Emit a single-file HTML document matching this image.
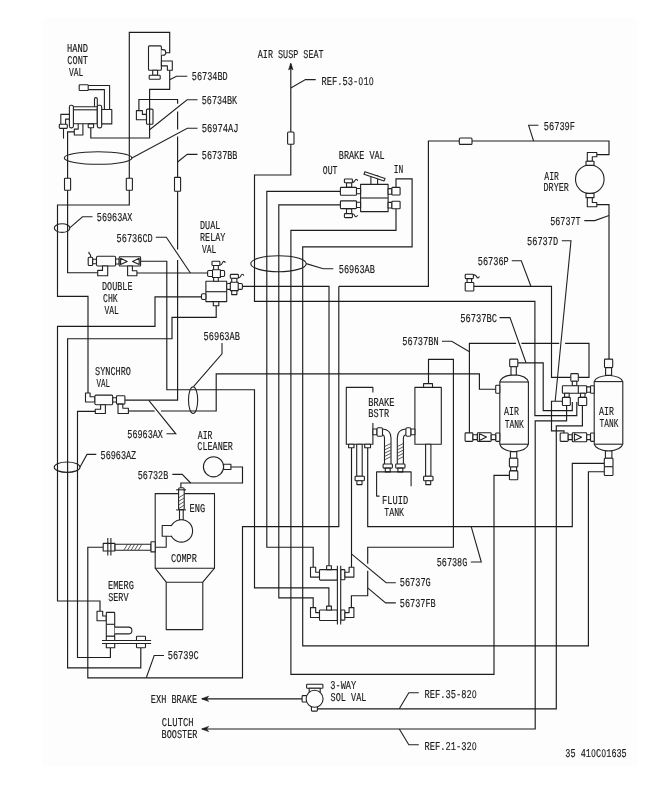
<!DOCTYPE html>
<html lang="en">
<head>
<meta charset="utf-8">
<title>Air brake piping diagram 35 410C01635</title>
<style>
html,body{margin:0;padding:0;background:#fff;}
body{width:668px;height:792px;overflow:hidden;}
svg{display:block;filter:grayscale(1);}
.l{fill:none;stroke:#1c1c1c;stroke-width:1.15;stroke-linejoin:miter;}
.d{fill:none;stroke:#222;stroke-width:1.1;}
.e{fill:none;stroke:#222;stroke-width:1.1;}
.c{fill:#fdfdfd;stroke:#222;stroke-width:1.1;stroke-linejoin:round;}
.cw{fill:#fdfdfd;stroke:#222;stroke-width:1.1;}
.c0{fill:none;stroke:#222;stroke-width:1.1;stroke-linejoin:round;}
.h{fill:none;stroke:#333;stroke-width:0.8;}
.a{fill:#1c1c1c;stroke:#1c1c1c;stroke-width:0.6;}
.z{font-family:"Liberation Sans","DejaVu Sans",sans-serif;font-size:11.15px;}
text{font-family:"Liberation Mono","DejaVu Sans Mono",monospace;font-size:12px;fill:#1a1a1a;white-space:pre;text-rendering:geometricPrecision;stroke:#1a1a1a;stroke-width:0.15px;}
</style>
</head>
<body>
<svg width="668" height="792" viewBox="0 0 668 792">
<rect x="0" y="0" width="668" height="792" fill="#fff"/>
<rect x="43" y="18" width="594.2" height="748.5" fill="#fdfdfd"/>
<!-- pipes: top-left -->
<polyline class="l" points="165.6,52.7 169.7,52.7 169.7,32.4 129.3,32.4 129.3,205 57.5,205 57.5,296.3 88,296.3 88,393"/>
<polyline class="l" points="74.3,131.8 67.6,131.8 67.6,272.7 97.7,272.7"/>
<polyline class="l" points="90.8,127.8 90.8,138 149.6,138 149.6,124.2"/>
<polyline class="l" points="149.6,109.1 149.6,89.4 169.7,89.4 169.7,70.2"/>
<polyline class="l" points="138.9,110.6 138.9,99.5 177.6,99.5 177.6,103.8"/>
<line class="l" x1="177.6" y1="111.4" x2="177.6" y2="129.5"/>
<line class="l" x1="177.6" y1="136.4" x2="177.6" y2="249.5"/>
<polyline class="l" points="177.6,260 177.6,400.1 124.9,400.1"/>
<!-- pipes: double check / dual relay -->
<polyline class="l" points="140.6,261.2 166.8,261.2 166.8,389.7 254.5,389.7 254.5,587.9 328.9,587.9 328.9,605.9"/>
<polyline class="l" points="136.9,273 207.6,273"/>
<polyline class="l" points="201.5,296.8 155,296.8 155,326.3 57.5,326.3 57.5,601 100,601 100,611.2"/>
<polyline class="l" points="216.2,305.8 216.2,317.3 172,317.3 172,338.7 67.6,338.7 67.6,667.8 140.8,667.8 140.8,647.7"/>
<polyline class="l" points="95.3,411.3 77.5,411.3 77.5,657.5 110.4,657.5 110.4,647.7"/>
<polyline class="l" points="242.4,286.4 329,286.4 329,565.7"/>
<line class="l" x1="128.4" y1="411" x2="154.6" y2="411"/>
<polyline class="l" points="161,411 216.2,411 216.2,373.8 479.4,373.8 479.4,389.2 495.7,389.2"/>
<!-- pipes: brake valve loops -->
<polyline class="l" points="290.8,64 290.8,175 254.5,175 254.5,301.4 534.9,301.4 534.9,415.6 576.8,415.6 576.8,402"/>
<polyline class="l" points="340.3,191.3 266.8,191.3 266.8,547.2 313.2,547.2 313.2,567.2"/>
<polyline class="l" points="340.3,204.8 278.8,204.8 278.8,597.8 313.2,597.8 313.2,607.7"/>
<polyline class="l" points="396,208.8 396,230.4 290.9,230.4 290.9,674.4 494,674.4 494,475.3 509.4,475.3"/>
<polyline class="l" points="396,187.3 396,178.8 412.1,178.8 412.1,246.8 302.7,246.8 302.7,645.9 588.4,645.9 588.4,471.7 604.3,471.7"/>
<!-- pipes: top right -->
<polyline class="l" points="338.8,286.4 428.4,286.4 428.4,141 609,141 609,154.6 596.8,154.6"/>
<polyline class="l" points="338.8,286.4 338.8,526.6 242.5,526.6 242.5,677.8 87.8,677.8 87.8,547.2 103.2,547.2"/>
<polyline class="l" points="596.8,204.6 609,204.6 609,359.1"/>
<polyline class="l" points="473.8,286.3 551.5,286.3 551.5,377.3 570.8,377.3"/>
<polyline class="l" points="578.3,377.3 589,377.3 589,343.4 565.1,343.4"/>
<line class="l" x1="559.2" y1="343.4" x2="521.4" y2="343.4"/>
<polyline class="l" points="516,343.4 469.4,343.4 469.4,432.8"/>
<!-- pipes: booster area -->
<polyline class="l" points="428.5,383.6 428.5,359.4 453.4,359.4 453.4,547.2 367.7,547.2 367.7,563.7"/>
<polyline class="l" points="367.7,570.7 367.7,595.7 351.4,595.7 351.4,607.7"/>
<polyline class="l" points="351.5,447.8 351.5,567.2"/>
<polyline class="l" points="367.7,447.8 367.7,526.6 572.3,526.6 572.3,463.3 604.3,463.3"/>
<!-- pipes: air tank manifold -->
<polyline class="l" points="517.8,362.8 543.2,362.8 543.2,410.6 572.3,410.6 572.3,402"/>
<polyline class="l" points="566.6,405.5 566.6,420.9 535.2,420.9 535.2,729 202,729"/>
<polyline class="l" points="582.4,405.5 582.4,425.8 556.3,425.8 556.3,708.8 317.4,708.8"/>
<polyline class="l" points="562.4,401.2 551.5,401.2 551.5,430.8 564,430.8 564,433"/>
<line class="l" x1="202" y1="698.8" x2="302.1" y2="698.8"/>
<!-- leaders -->
<polyline class="d" points="169.7,79.8 176.5,76.2 187.3,76.2"/>
<polyline class="d" points="149.6,129.8 187.1,99.8 197.5,99.8"/>
<polyline class="d" points="131.5,158.2 187.3,128.2 197.5,128.2"/>
<polyline class="d" points="177.6,162 187.2,154.4 197.5,154.4"/>
<polyline class="d" points="290.8,88 305.5,79.6 315.7,79.6"/>
<polyline class="d" points="533.6,141 528.6,125.3 538.4,125.3"/>
<polyline class="d" points="609,215.6 594.8,220.6 584.3,220.6"/>
<polyline class="d" points="561.8,240.8 571,240.8 555.2,401"/>
<polyline class="d" points="511.8,260.8 521.3,260.8 530.9,286.3"/>
<polyline class="d" points="70,227.6 82.5,216.8 92.5,216.8"/>
<polyline class="d" points="155.8,237.2 166.3,237.2 190.4,273"/>
<polyline class="d" points="306.2,263.6 323.3,268.8 333.3,268.8"/>
<polyline class="d" points="222,343 222,353.8 193.5,386.7"/>
<polyline class="d" points="442,341.2 451.7,341.2 469,351.5"/>
<polyline class="d" points="499.5,317.6 510,317.6 526,362.8"/>
<polyline class="d" points="148.8,400.3 175.8,433.8 166.5,433.8"/>
<polyline class="d" points="80,467 87,454.4 96.3,454.4"/>
<polyline class="d" points="172.3,474.4 182.2,474.4 190.7,483"/>
<polyline class="d" points="351.4,553.8 386.1,582.7 395.8,582.7"/>
<polyline class="d" points="367.7,587.9 385.6,602.9 395.8,602.9"/>
<polyline class="d" points="471.2,526.6 481.3,562 470.8,562"/>
<polyline class="d" points="146.3,677.8 154.2,655.5 164,655.5"/>
<polyline class="d" points="399.3,708.8 408.8,692.8 418.8,692.8"/>
<polyline class="d" points="399.3,729 408.8,744.8 418.8,744.8"/>
<!-- ellipses -->
<ellipse class="e" cx="98.1" cy="158" rx="33.8" ry="6.3"/>
<ellipse class="e" cx="62.1" cy="228.1" rx="7.8" ry="4.3"/>
<ellipse class="e" cx="278.5" cy="263.7" rx="27.7" ry="8"/>
<ellipse class="e" cx="193.1" cy="400.1" rx="4.6" ry="13.4"/>
<ellipse class="e" cx="67.1" cy="467.2" rx="12.9" ry="5.2"/>
<!-- arrows -->
<polygon class="a" points="288.6,69.8 290.8,63 293,69.8 290.8,68.4"/>
<polygon class="a" points="208.6,696.2 201.6,698.8 208.6,701.4 206.6,698.8"/>
<polygon class="a" points="208.6,726.4 201.6,729 208.6,731.6 206.6,729"/>
<!-- inline connectors -->
<rect class="c" x="64.5" y="178.2" width="6.1" height="12.1" rx="0.5"/>
<rect class="c" x="126.3" y="178.2" width="6.1" height="12.1" rx="0.5"/>
<rect class="c" x="174.5" y="177.4" width="6.1" height="13.9" rx="0.5"/>
<rect class="c" x="287.6" y="132" width="6.4" height="12.3" rx="1"/>
<rect class="c" x="459.3" y="138" width="12.7" height="6.4" rx="1"/>
<!-- hand control valve -->
<rect class="c" x="79.2" y="84.7" width="9" height="5.8" rx="0.8"/>
<polyline class="c0" points="88.2,85.5 109.6,85.5 109.6,109.5"/>
<polyline class="c0" points="88.2,89.6 104.4,89.6 104.4,109.5"/>
<rect class="c" x="94.5" y="97.6" width="2.8" height="12.2" rx="1.3"/>
<rect class="c" x="73.4" y="106.7" width="23.9" height="17.1"/>
<line class="c0" x1="73.4" y1="109.8" x2="97.3" y2="109.8"/>
<rect class="c" x="69.4" y="105.3" width="4" height="22.6" rx="1.6"/>
<rect class="c" x="97.3" y="105.3" width="4.4" height="22.6" rx="1.6"/>
<rect class="c" x="101.7" y="109.5" width="10.1" height="14.4"/>
<polyline class="c0" points="69.4,114.4 60.8,114.4 60.8,124.2"/>
<polyline class="c0" points="69.4,119.1 65.6,119.1 65.6,124.2"/>
<rect class="c" x="59.3" y="124.2" width="8" height="4.2" rx="0.8"/>
<line class="c0" x1="63.5" y1="128.4" x2="63.5" y2="138.6"/>
<polyline class="c0" points="78.2,123.8 78.2,129.1 74.3,129.1 74.3,135 82.9,135 82.9,123.8"/>
<rect class="c" x="88.2" y="123.9" width="5.4" height="3.9" rx="0.6"/>
<!-- solenoid valve top -->
<rect class="c" x="148.5" y="45.9" width="12.9" height="24.3" rx="1"/>
<path class="c" d="M161.4,49.6 h1.6 a2.8,2.8 0 0 1 0,5.6 h-1.6"/>
<polygon class="c" points="161.4,61 172.3,61 172.3,70.2 167.4,70.2 167.4,65.9 161.4,65.9"/>
<rect class="c" x="152.7" y="70.2" width="4.9" height="5.1"/>
<rect class="c" x="149.2" y="75.3" width="11" height="3.9" rx="0.8"/>
<!-- small component -->
<polygon class="c" points="136.4,110.6 142.4,110.6 142.4,114.4 146.5,114.4 146.5,119.7 136.4,119.7"/>
<rect class="c0" x="146.5" y="109.1" width="6.5" height="15.1" rx="1"/>
<line class="l" x1="149.6" y1="109.1" x2="149.6" y2="124.2"/>
<!-- brake valve -->
<rect class="c" x="360.6" y="184.4" width="27.5" height="27.2"/>
<line class="c0" x1="360.6" y1="198" x2="388.1" y2="198"/>
<rect class="c" x="346.5" y="182.8" width="5.2" height="4.6"/>
<rect class="c" x="346.5" y="208.6" width="5.2" height="5"/>
<rect class="c" x="340.4" y="187.4" width="16.1" height="7.9" rx="0.8"/>
<rect class="c" x="340.4" y="200.9" width="16.1" height="7.7" rx="0.8"/>
<rect class="c" x="356.5" y="188.5" width="4.1" height="5.2"/>
<rect class="c" x="356.5" y="202.3" width="4.1" height="5.2"/>
<rect class="c" x="388.1" y="188.6" width="3.8" height="5.6"/>
<rect class="c" x="388.1" y="202.4" width="3.8" height="5.6"/>
<rect class="c" x="391.9" y="187.4" width="8.2" height="7.6" rx="0.8"/>
<rect class="c" x="391.9" y="201.2" width="8.2" height="7.6" rx="0.8"/>
<rect class="c" x="344.4" y="179" width="8" height="3.8" rx="0.8"/>
<rect class="c" x="344.4" y="213.6" width="8" height="4" rx="0.8"/>
<path class="c0" d="M352.4,182.6 q1.6,0 2.4,-1.8 q0.8,-1.7 1.6,-1.6 q0.8,0.1 1.2,1.6"/>
<path class="c0" d="M352.4,213.8 q1.6,0 2.2,1.6 q0.7,1.5 1.6,1.3 q0.8,-0.2 1.4,-1.6"/>
<rect class="c" x="370.9" y="175.5" width="6.7" height="8.9"/>
<polygon class="c" points="364.9,171.7 385.1,178.4 384.1,180.9 364,174.3"/>
<!-- air dryer -->
<ellipse class="c" cx="589.8" cy="179.3" rx="14.3" ry="14.3"/>
<polygon class="c" points="587.3,161.3 587.3,152.5 596.8,152.5 596.8,156.8 592.3,156.8 592.3,161.3"/>
<rect class="c" x="586" y="161.3" width="8" height="4.1"/>
<rect class="c" x="586" y="193.4" width="8" height="4.2"/>
<polygon class="c" points="587.3,197.6 587.3,206.8 596.8,206.8 596.8,202.5 592.3,202.5 592.3,197.6"/>
<!-- small valve 56736P -->
<rect class="c" x="465.2" y="282.5" width="8.6" height="8.5" rx="0.8"/>
<rect class="c" x="467.1" y="278.5" width="4.5" height="4"/>
<rect class="c" x="465.2" y="274.2" width="8.2" height="4.4" rx="0.8"/>
<path class="c0" d="M473.4,274.6 q2.4,0.2 3.1,1.9 q0.6,1.6 1.6,1.5 q0.8,-0.2 1.3,-1.6"/>
<!-- double check valve -->
<rect class="c" x="88.2" y="257.3" width="4.5" height="8.2" rx="1"/>
<path class="c0" d="M90.5,257.3 q0.5,-2.5 -0.8,-3.2 t-0.4,-2.2"/>
<rect class="c" x="92.7" y="259.2" width="3.8" height="4.5"/>
<rect class="c" x="96.5" y="256.2" width="19.1" height="9.8" rx="1.2"/>
<rect class="c" x="115.6" y="259" width="3.6" height="5"/>
<rect class="c" x="119.2" y="256.7" width="21.4" height="9.3" rx="0.8"/>
<polygon class="c0" points="120.6,258.2 127.2,261.4 120.6,264.6"/>
<polygon class="c0" points="139.2,258.2 132.6,261.4 139.2,264.6"/>
<polygon class="c" points="102.5,266 107.7,266 107.7,275.7 97.7,275.7 97.7,270.4 102.5,270.4"/>
<polygon class="c" points="127.6,266 132.4,266 132.4,270.7 136.9,270.7 136.9,275.7 127.6,275.7"/>
<!-- dual relay valve -->
<rect class="c" x="205.9" y="281.2" width="20.8" height="20.4"/>
<line class="c0" x1="205.9" y1="291.7" x2="226.7" y2="291.7"/>
<rect class="c" x="201.5" y="293.8" width="4.4" height="5.7" rx="1.2"/>
<rect class="c" x="213.3" y="301.6" width="5.5" height="4.2"/>
<rect class="c" x="207.6" y="270.5" width="17" height="6" rx="1.2"/>
<rect class="c" x="213.6" y="265.5" width="4.7" height="15.7"/>
<rect class="c" x="212.5" y="269.7" width="7.9" height="7.8"/>
<rect class="c" x="212" y="261.3" width="7.9" height="4.2" rx="0.8"/>
<path class="c0" d="M219.9,265.2 q1.6,0 2.4,-2.1 q0.8,-1.9 1.8,-1.7 q0.8,0.1 1.1,1.5"/>
<rect class="c" x="226.7" y="283.5" width="15.7" height="5.9" rx="1.2"/>
<rect class="c" x="231.7" y="278.3" width="5.2" height="16.3"/>
<rect class="c" x="230.3" y="282.2" width="7.9" height="8.4"/>
<rect class="c" x="230.3" y="274.4" width="8.1" height="3.9" rx="0.8"/>
<path class="c0" d="M238.4,278 q1.6,0 2.4,-2.1 q0.8,-1.9 1.8,-1.7 q0.8,0.1 1.1,1.5"/>
<!-- synchro valve -->
<polygon class="c" points="85.5,393 90.1,393 90.1,396.8 94.9,396.8 94.9,402 85.5,402"/>
<rect class="c" x="94.9" y="395.1" width="17.8" height="9.6" rx="1.2"/>
<rect class="c" x="112.7" y="397.8" width="3.8" height="4.2"/>
<rect class="c" x="116.5" y="395.7" width="8.4" height="8.4" rx="0.8"/>
<polygon class="c" points="100.6,404.7 105.4,404.7 105.4,413.5 95.3,413.5 95.3,409.3 100.6,409.3"/>
<polygon class="c" points="118,404.1 122.8,404.1 122.8,408.3 128.4,408.3 128.4,413.5 118,413.5"/>
<!-- air cleaner -->
<ellipse class="c" cx="213.5" cy="466.8" rx="10.1" ry="10.1"/>
<rect class="c" x="223.6" y="464.3" width="7.3" height="5.2"/>
<polyline class="l" points="230.9,467 242.5,467 242.5,483 180.9,483 180.9,487.7"/>
<!-- compressor -->
<polyline class="c0" points="178.6,493.6 155.2,493.6 155.2,568.2 214.5,568.2 214.5,493.6 184.2,493.6"/>
<polyline class="c0" points="155.2,568.2 166.2,582.2 166.2,629.6 202.8,629.6 202.8,582.2 214.5,568.2"/>
<line class="c0" x1="166.2" y1="582.2" x2="202.8" y2="582.2"/>
<rect class="c" x="178.6" y="487.7" width="5.6" height="22.2" rx="1.5"/>
<line class="h" x1="178.8" y1="497.7" x2="184" y2="494.5"/>
<line class="h" x1="178.8" y1="501.3" x2="184" y2="498.1"/>
<line class="h" x1="178.8" y1="504.9" x2="184" y2="501.7"/>
<line class="h" x1="178.8" y1="508.5" x2="184" y2="505.3"/>
<line class="c0" x1="176.2" y1="489.8" x2="186" y2="489.8"/>
<line class="c0" x1="176.2" y1="509.9" x2="186" y2="509.9"/>
<rect class="c" x="179.5" y="509.9" width="3.7" height="10.1"/>
<rect class="c" x="162.2" y="525.5" width="9.8" height="10.7"/>
<ellipse class="cw" cx="181.4" cy="530.9" rx="11.2" ry="11.2"/>
<rect x="169" y="526.1" width="4" height="9.5" fill="#fdfdfd"/>
<polyline class="c0" points="166.2,536.2 166.2,547.2 155.2,547.2"/>
<rect class="c" x="114.8" y="544.2" width="36.2" height="6"/>
<line class="h" x1="124" y1="550" x2="127.4" y2="544.4"/>
<line class="h" x1="127.6" y1="550" x2="131" y2="544.4"/>
<line class="h" x1="131.2" y1="550" x2="134.6" y2="544.4"/>
<line class="h" x1="134.8" y1="550" x2="138.2" y2="544.4"/>
<line class="h" x1="138.4" y1="550" x2="141.8" y2="544.4"/>
<rect class="c" x="151" y="541.8" width="4.2" height="10.1"/>
<rect class="c" x="103.2" y="543.4" width="11.6" height="7.6"/>
<line class="c0" x1="107.8" y1="537.9" x2="107.8" y2="555.4"/>
<line class="c0" x1="110.9" y1="537.9" x2="110.9" y2="555.4"/>
<!-- emerg serv valve -->
<polygon class="c" points="97,611.2 102.7,611.2 102.7,616 106.3,616 106.3,620.7 97,620.7"/>
<rect class="c" x="106.3" y="612.4" width="8.4" height="23.9" rx="0.8"/>
<line class="c0" x1="106.3" y1="624.3" x2="114.7" y2="624.3"/>
<path class="c" d="M114.7,627.1 h13.8 a3.4,3.4 0 0 1 0,6.8 h-13.8"/>
<rect class="c" x="106.3" y="636.3" width="8.4" height="11.4"/>
<rect class="c" x="136.5" y="636.3" width="9" height="11.4" rx="0.8"/>
<rect x="102" y="640.5" width="49.1" height="3" fill="#fdfdfd"/>
<line class="c0" x1="102" y1="640.5" x2="151.1" y2="640.5"/>
<line class="c0" x1="102" y1="643.5" x2="151.1" y2="643.5"/>
<!-- brake booster -->
<polyline class="c0" points="372.9,392.4 372.9,387.4 346.3,387.4 346.3,444.2 372.9,444.2 372.9,423.1"/>
<rect class="c" x="348.6" y="444.2" width="5.4" height="3.6"/>
<rect class="c" x="364.7" y="444.2" width="5.8" height="3.6"/>
<rect class="c" x="356.7" y="444.2" width="5.5" height="32.1"/>
<rect class="c" x="355.1" y="476.3" width="9.3" height="4.5" rx="0.8"/>
<rect class="c" x="356.9" y="480.8" width="5.1" height="3.8"/>
<rect class="c" x="414.9" y="387.4" width="26.4" height="56.8"/>
<rect class="c" x="423.6" y="383.6" width="8.9" height="3.8"/>
<rect class="c" x="425.6" y="444.2" width="5.3" height="32.1"/>
<rect class="c" x="423.6" y="476.3" width="9.4" height="4.5" rx="0.8"/>
<rect class="c" x="425.8" y="480.8" width="4.9" height="3.8"/>
<rect class="c" x="372.9" y="429" width="4.1" height="5.7"/>
<rect class="c" x="377" y="427.8" width="5.5" height="8.5" rx="1.2"/>
<rect class="c" x="410.8" y="429" width="4.1" height="5.7"/>
<rect class="c" x="405.9" y="427.8" width="4.9" height="8.5" rx="1.2"/>
<path class="c0" d="M382.5,429 q8.5,0.5 8.5,9 V464 M382.5,434.7 q2,0.3 2,4 V464"/>
<path class="c0" d="M405.9,429 q-8.6,0.5 -8.6,9 V464 M405.9,434.7 q-2.5,0.3 -2.5,4 V464"/>
<line class="h" x1="384.7" y1="446.5" x2="390.8" y2="443.5"/>
<line class="h" x1="397.5" y1="446.5" x2="403.2" y2="443.5"/>
<line class="h" x1="384.7" y1="449.8" x2="390.8" y2="446.8"/>
<line class="h" x1="397.5" y1="449.8" x2="403.2" y2="446.8"/>
<line class="h" x1="384.7" y1="453.1" x2="390.8" y2="450.1"/>
<line class="h" x1="397.5" y1="453.1" x2="403.2" y2="450.1"/>
<line class="h" x1="384.7" y1="456.4" x2="390.8" y2="453.4"/>
<line class="h" x1="397.5" y1="456.4" x2="403.2" y2="453.4"/>
<line class="h" x1="384.7" y1="459.7" x2="390.8" y2="456.7"/>
<line class="h" x1="397.5" y1="459.7" x2="403.2" y2="456.7"/>
<rect class="c" x="383.1" y="464" width="9.3" height="4.1" rx="0.8"/>
<rect class="c" x="395.7" y="464" width="9.3" height="4.1" rx="0.8"/>
<rect class="c" x="385.3" y="468.1" width="4.9" height="3.8"/>
<rect class="c" x="397.9" y="468.1" width="4.9" height="3.8"/>
<polyline class="c0" points="379.5,496.1 376.6,496.1 376.6,471.9 411.1,471.9 411.1,486.2"/>
<!-- air tank 1 -->
<path class="c" d="M499.8,382 Q501.3,375.8 514.1,374.6 Q526.9,375.8 528.4,382 V444.2 Q526.9,450.6 514.1,451.8 Q501.3,450.6 499.8,444.2 Z"/>
<line class="c0" x1="499.8" y1="382" x2="528.4" y2="382"/>
<line class="c0" x1="499.8" y1="444.2" x2="528.4" y2="444.2"/>
<rect class="c" x="509.7" y="359.1" width="8.1" height="7.7" rx="0.8"/>
<rect class="c" x="511" y="366.8" width="5.3" height="8.2"/>
<rect class="c" x="495.7" y="385.3" width="4.1" height="7.9" rx="0.8"/>
<rect class="c" x="495.7" y="433" width="4.1" height="8.4" rx="0.8"/>
<rect class="c" x="510.4" y="451.6" width="6.4" height="6.6"/>
<rect class="c" x="509.4" y="458.2" width="8.4" height="8.8" rx="0.8"/>
<rect class="c" x="510.6" y="467" width="6" height="3.9"/>
<rect class="c" x="509.4" y="470.9" width="8.4" height="8.9" rx="0.8"/>
<!-- check valve 1 -->
<rect class="c" x="465.1" y="432.9" width="7.8" height="8.5" rx="0.8"/>
<rect class="c" x="472.9" y="434.7" width="4.5" height="4.9"/>
<rect class="c" x="477.4" y="432.8" width="13.8" height="8.6" rx="0.8"/>
<polygon class="c0" points="479.4,433.8 486.5,437.1 479.4,440.4"/>
<rect class="c" x="491.2" y="434.7" width="4.5" height="4.9"/>
<!-- air tank 2 -->
<path class="c" d="M594.2,381.6 Q595.7,376.4 608.5,375.2 Q621.3,376.4 622.8,381.6 V444.2 Q621.3,450 608.5,451.2 Q595.7,450 594.2,444.2 Z"/>
<line class="c0" x1="594.2" y1="381.6" x2="622.8" y2="381.6"/>
<line class="c0" x1="594.2" y1="444.2" x2="622.8" y2="444.2"/>
<rect class="c" x="604.5" y="359.1" width="8.2" height="8.5" rx="0.8"/>
<rect class="c" x="605.6" y="367.6" width="6" height="7.8"/>
<rect class="c" x="590.5" y="385.8" width="3.7" height="7.5" rx="0.8"/>
<rect class="c" x="590.5" y="433" width="3.7" height="8.4" rx="0.8"/>
<rect class="c" x="605.4" y="451" width="6.5" height="7.2"/>
<rect class="c" x="604.3" y="458.2" width="8.7" height="8.6" rx="0.8"/>
<rect class="c" x="604.3" y="466.8" width="8.7" height="8.7" rx="0.8"/>
<!-- manifold -->
<rect class="c" x="570.8" y="373.6" width="7.5" height="7.6" rx="0.8"/>
<rect class="c" x="572.3" y="381.2" width="4.5" height="4.6"/>
<rect class="c" x="562.4" y="385.8" width="24.3" height="7.5" rx="0.8"/>
<line class="c0" x1="578.3" y1="385.8" x2="578.3" y2="393.3"/>
<rect class="c" x="586.7" y="386.9" width="3.8" height="5.3"/>
<rect class="c" x="564.6" y="393.3" width="4.6" height="4.1"/>
<rect class="c" x="562.4" y="397.4" width="7.9" height="8.1" rx="0.8"/>
<rect class="c" x="580.5" y="393.3" width="4.5" height="4.1"/>
<rect class="c" x="578.3" y="397.4" width="8.4" height="8.1" rx="0.8"/>
<!-- check valve 2 -->
<rect class="c" x="560.2" y="433" width="8" height="8.4" rx="0.8"/>
<rect class="c" x="568.2" y="434.7" width="4.1" height="4.9"/>
<rect class="c" x="572.3" y="432.7" width="14.4" height="9.1" rx="0.8"/>
<polygon class="c0" points="574.4,433.8 581.6,437.2 574.4,440.6"/>
<rect class="c" x="586.7" y="434.7" width="3.8" height="4.9"/>
<!-- lower twin valves -->
<polygon class="c" points="310.5,567.2 315.7,567.2 315.7,572.2 319.5,572.2 319.5,577.1 310.5,577.1"/>
<rect class="c" x="319.5" y="569.6" width="17.9" height="10.5" rx="0.8"/>
<rect class="c" x="326.6" y="565.7" width="4.8" height="3.9"/>
<rect class="c" x="340.7" y="569.6" width="4.2" height="10.1" rx="0.8"/>
<polygon class="c" points="349.1,567.2 353.9,567.2 353.9,577.1 344.9,577.1 344.9,572.2 349.1,572.2"/>
<polygon class="c" points="310.5,607.6 315.7,607.6 315.7,612.6 319.5,612.6 319.5,617.5 310.5,617.5"/>
<rect class="c" x="319.5" y="610" width="17.9" height="10.5" rx="0.8"/>
<rect class="c" x="326.6" y="606.1" width="4.8" height="3.9"/>
<rect class="c" x="340.7" y="610" width="4.2" height="10.1" rx="0.8"/>
<polygon class="c" points="349.1,607.6 353.9,607.6 353.9,617.5 344.9,617.5 344.9,612.6 349.1,612.6"/>
<rect x="337.4" y="565.7" width="3.3" height="58.9" fill="#fdfdfd"/>
<line class="c0" x1="337.4" y1="565.7" x2="337.4" y2="624.6"/>
<line class="c0" x1="340.7" y1="565.7" x2="340.7" y2="624.6"/>
<!-- 3-way solenoid valve -->
<rect class="c" x="306.6" y="684.3" width="16.3" height="4" rx="0.8"/>
<rect class="c" x="309.2" y="688.3" width="11" height="3.7"/>
<rect class="c" x="302.1" y="695.6" width="4.9" height="6.4" rx="0.8"/>
<rect class="c" x="311.4" y="705" width="6" height="6.1" rx="0.8"/>
<ellipse class="cw" cx="314.6" cy="698.8" rx="8.5" ry="8.5"/>
<!-- labels -->
<text transform="translate(67.05 51.8) scale(0.7285 1)" x="0 7.2 14.4 21.6">HAND</text>
<text transform="translate(67.3 63.85) scale(0.7198 1)" x="0 7.2 14.4 21.6">CONT</text>
<text transform="translate(69.05 75.65) scale(0.6648 1)" x="0 7.2 14.4">VAL</text>
<text transform="translate(191.8 80.1) scale(0.7111 1)" x="0 7.2 14.4 21.6 28.8 36 43.2">56734BD</text>
<text transform="translate(201.8 104.15) scale(0.7012 1)" x="0 7.2 14.4 21.6 28.8 36 43.2">56734BK</text>
<text transform="translate(201.8 132.35) scale(0.7310 1)" x="0 7.2 14.4 21.6 28.8 36 43.2">56974AJ</text>
<text transform="translate(201.8 158.55) scale(0.7062 1)" x="0 7.2 14.4 21.6 28.8 36 43.2">56737BB</text>
<text transform="translate(257.8 57.95) scale(0.7031 1)" x="0 7.2 14.4 21.6 28.8 36 43.2 50.4 57.6 64.8 72 79.2 86.4">AIR SUSP SEAT</text>
<text transform="translate(321.55 84.95) scale(0.7285 1)" x="0 7.2 14.4 21.6 28.8 36 43.2 50.9 57.6 65.3">REF.53-<tspan class="z">0</tspan>1<tspan class="z">0</tspan></text>
<text transform="translate(338.85 158.5) scale(0.7073 1)" x="0 7.2 14.4 21.6 28.8 36 43.2 50.4 57.6">BRAKE VAL</text>
<text transform="translate(322.8 174.25) scale(0.6764 1)" x="0 7.2 14.4">OUT</text>
<text transform="translate(393.85 172.7) scale(0.6590 1)" x="0 7.2">IN</text>
<text transform="translate(543.8 129.6) scale(0.7227 1)" x="0 7.2 14.4 21.6 28.8 36">56739F</text>
<text transform="translate(544.3 179.5) scale(0.6764 1)" x="0 7.2 14.4">AIR</text>
<text transform="translate(543.55 190.8) scale(0.7042 1)" x="0 7.2 14.4 21.6 28.8">DRYER</text>
<text transform="translate(550.3 224.95) scale(0.6995 1)" x="0 7.2 14.4 21.6 28.8 36">56737T</text>
<text transform="translate(527.1 245.2) scale(0.7169 1)" x="0 7.2 14.4 21.6 28.8 36">56737D</text>
<text transform="translate(477.8 265.35) scale(0.7168 1)" x="0 7.2 14.4 21.6 28.8 36">56736P</text>
<text transform="translate(96.8 221.25) scale(0.7062 1)" x="0 7.2 14.4 21.6 28.8 36 43.2">56963AX</text>
<text transform="translate(116.6 241.95) scale(0.7161 1)" x="0 7.2 14.4 21.6 28.8 36 43.2">56736CD</text>
<text transform="translate(102.05 289.95) scale(0.7053 1)" x="0 7.2 14.4 21.6 28.8 36">DOUBLE</text>
<text transform="translate(103.05 302.2) scale(0.6764 1)" x="0 7.2 14.4">CHK</text>
<text transform="translate(104.55 314) scale(0.6648 1)" x="0 7.2 14.4">VAL</text>
<text transform="translate(200.05 228.75) scale(0.7024 1)" x="0 7.2 14.4 21.6">DUAL</text>
<text transform="translate(200.05 241) scale(0.7042 1)" x="0 7.2 14.4 21.6 28.8">RELAY</text>
<text transform="translate(202.05 252.7) scale(0.6648 1)" x="0 7.2 14.4">VAL</text>
<text transform="translate(338.8 272.7) scale(0.7161 1)" x="0 7.2 14.4 21.6 28.8 36 43.2">56963AB</text>
<text transform="translate(203.6 340.2) scale(0.7210 1)" x="0 7.2 14.4 21.6 28.8 36 43.2">56963AB</text>
<text transform="translate(95.05 375.45) scale(0.7111 1)" x="0 7.2 14.4 21.6 28.8 36 43.2">SYNCHRO</text>
<text transform="translate(96.55 387.45) scale(0.6301 1)" x="0 7.2 14.4">VAL</text>
<text transform="translate(402.3 345.35) scale(0.7210 1)" x="0 7.2 14.4 21.6 28.8 36 43.2">56737BN</text>
<text transform="translate(460.3 322.35) scale(0.7310 1)" x="0 7.2 14.4 21.6 28.8 36 43.2">56737BC</text>
<text transform="translate(127.3 437.9) scale(0.7062 1)" x="0 7.2 14.4 21.6 28.8 36 43.2">56963AX</text>
<text transform="translate(100.6 459.15) scale(0.7062 1)" x="0 7.2 14.4 21.6 28.8 36 43.2">56963AZ</text>
<text transform="translate(137.8 479.15) scale(0.7053 1)" x="0 7.2 14.4 21.6 28.8 36">56732B</text>
<text transform="translate(197.8 438.65) scale(0.6764 1)" x="0 7.2 14.4">AIR</text>
<text transform="translate(197.3 450.15) scale(0.7062 1)" x="0 7.2 14.4 21.6 28.8 36 43.2">CLEANER</text>
<text transform="translate(189.55 512.35) scale(0.7227 1)" x="0 7.2 14.4">ENG</text>
<text transform="translate(171.05 562.35) scale(0.7181 1)" x="0 7.2 14.4 21.6 28.8">COMPR</text>
<text transform="translate(368.35 405.55) scale(0.7250 1)" x="0 7.2 14.4 21.6 28.8">BRAKE</text>
<text transform="translate(368.35 417.3) scale(0.7198 1)" x="0 7.2 14.4 21.6">BSTR</text>
<text transform="translate(382.05 504.25) scale(0.7250 1)" x="0 7.2 14.4 21.6 28.8">FLUID</text>
<text transform="translate(384.3 516.25) scale(0.6851 1)" x="0 7.2 14.4 21.6">TANK</text>
<text transform="translate(504.05 415.45) scale(0.6901 1)" x="0 7.2 14.4">AIR</text>
<text transform="translate(504.65 427.7) scale(0.6656 1)" x="0 7.2 14.4 21.6">TANK</text>
<text transform="translate(599.05 415.25) scale(0.6901 1)" x="0 7.2 14.4">AIR</text>
<text transform="translate(599.6 427.2) scale(0.6503 1)" x="0 7.2 14.4 21.6">TANK</text>
<text transform="translate(436.8 566.15) scale(0.7053 1)" x="0 7.2 14.4 21.6 28.8 36">56738G</text>
<text transform="translate(399.8 586.35) scale(0.7169 1)" x="0 7.2 14.4 21.6 28.8 36">56737G</text>
<text transform="translate(399.8 607.2) scale(0.7111 1)" x="0 7.2 14.4 21.6 28.8 36 43.2">56737FB</text>
<text transform="translate(108 589.15) scale(0.7181 1)" x="0 7.2 14.4 21.6 28.8">EMERG</text>
<text transform="translate(108.25 600.75) scale(0.7024 1)" x="0 7.2 14.4 21.6">SERV</text>
<text transform="translate(167.8 659.25) scale(0.7169 1)" x="0 7.2 14.4 21.6 28.8 36">56739C</text>
<text transform="translate(150.85 702.95) scale(0.7150 1)" x="0 7.2 14.4 21.6 28.8 36 43.2 50.4 57.6">EXH BRAKE</text>
<text transform="translate(161.8 726.25) scale(0.7343 1)" x="0 7.2 14.4 21.6 28.8 36">CLUTCH</text>
<text transform="translate(161.55 738.2) scale(0.7111 1)" x="0 7.2 14.4 21.6 28.8 36 43.2">BOOSTER</text>
<text transform="translate(330.3 689.2) scale(0.7181 1)" x="0 7.2 14.4 21.6 28.8">3-WAY</text>
<text transform="translate(330.55 700.95) scale(0.7111 1)" x="0 7.2 14.4 21.6 28.8 36 43.2">SOL VAL</text>
<text transform="translate(424.55 697.75) scale(0.7285 1)" x="0 7.2 14.4 21.6 28.8 36 43.2 50.4 57.6 65.3">REF.35-82<tspan class="z">0</tspan></text>
<text transform="translate(424.55 749.9) scale(0.7285 1)" x="0 7.2 14.4 21.6 28.8 36 43.2 50.4 57.6 65.3">REF.21-32<tspan class="z">0</tspan></text>
<text transform="translate(565.3 756.95) scale(0.7111 1)" x="0 7.2 14.4 21.6 28.8 36.5 43.2 50.9 57.6 64.8 72 79.2">35 41<tspan class="z">0</tspan>C<tspan class="z">0</tspan>1635</text>
</svg>
</body>
</html>
